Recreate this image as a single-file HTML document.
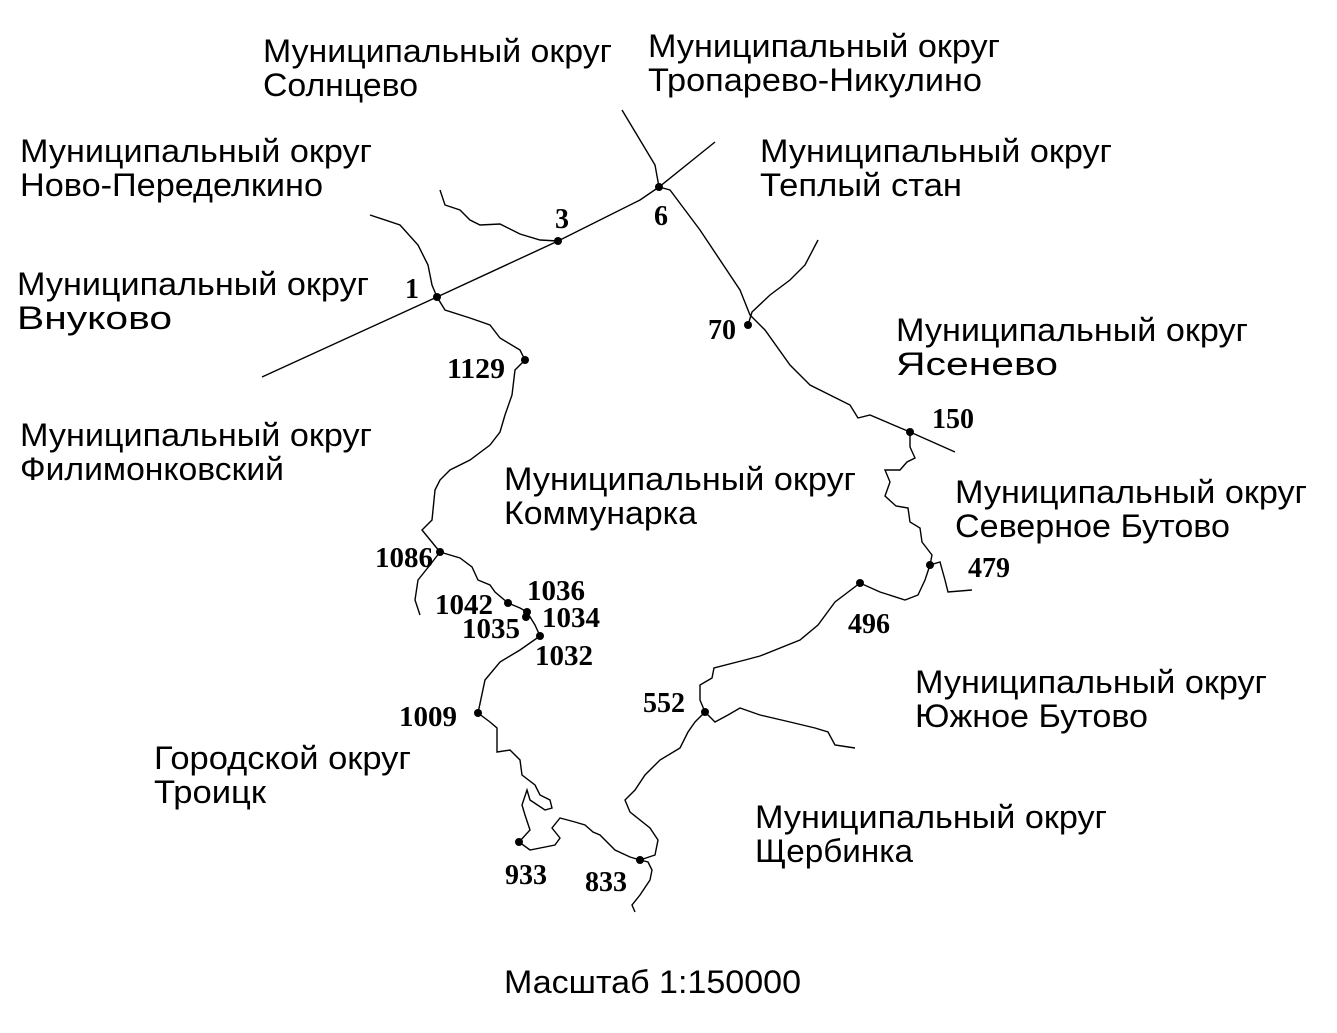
<!DOCTYPE html>
<html><head><meta charset="utf-8"><style>
html,body{margin:0;padding:0;background:#fff;}
svg{display:block;}
.t{font-family:"Liberation Sans",sans-serif;font-size:32px;fill:#000;}
.n{font-family:"Liberation Serif",serif;font-weight:bold;font-size:28px;fill:#000;}
path{fill:none;stroke:#000;stroke-width:1.4;}
</style></head><body>
<svg width="1337" height="1033" viewBox="0 0 1337 1033">
<path d="M262,377 L437,297 L558,241 L640,200 L659,187 L715,142"/>
<path d="M440,190 L445,205 L460,210 L470,220 L480,225 L500,224 L520,234 L540,240 L558,241"/>
<path d="M622,110 L655,165 L659,187 L670,190 L700,230 L740,290 L750,315 L765,330 L790,365 L810,385 L850,405 L858,418 L870,415 L910,432 L955,452"/>
<path d="M748,325 L752,312 L770,295 L790,280 L805,265 L818,240"/>
<path d="M370,215 L400,225 L418,245 L428,265 L432,285 L437,297 L445,310 L470,318 L490,325 L500,338 L520,350 L525,360 L515,370 L512,395 L505,415 L500,432 L490,445 L470,460 L450,470 L440,480 L435,490 L432,520 L422,530 L440,552"/>
<path d="M440,552 L430,565 L418,580 L415,600 L420,615"/>
<path d="M440,552 L460,558 L472,567 L478,580 L490,585 L495,592 L508,603 L520,608 L527,612 L535,625 L540,636 L520,650 L500,662 L485,680 L478,713 L490,722 L497,728 L497,752 L510,750 L520,760 L522,775 L535,785 L540,795 L550,800 L552,808 L545,810 L530,800 L527,790 L522,805 L525,815 L530,830 L519,842 L530,850 L555,845 L560,838 L552,828 L560,818 L575,822 L585,825 L593,832 L600,835 L615,850 L630,857 L640,860 L648,862 L652,870 L650,880 L640,895 L632,905 L635,912"/>
<path d="M640,860 L655,855 L658,840 L650,828 L630,812 L625,800 L635,790 L645,775 L660,760 L680,748 L688,732 L695,722 L705,712"/>
<path d="M705,712 L700,700 L700,685 L712,678 L714,668 L745,660 L760,656 L800,640 L818,625 L835,602 L860,583 L880,592 L905,600 L918,595 L925,580 L930,565 L940,562 L945,580 L948,592 L972,590"/>
<path d="M930,565 L932,555 L922,542 L920,528 L910,522 L908,508 L896,506 L885,496 L890,482 L885,470 L900,470 L907,462 L915,458 L910,447 L910,432"/>
<path d="M705,712 L715,722 L728,715 L740,708 L760,715 L790,722 L815,728 L828,732 L835,745 L855,748"/>
<g fill="#000">
<circle cx="437" cy="297" r="4"/><circle cx="558" cy="241" r="4"/><circle cx="659" cy="187" r="4"/>
<circle cx="748" cy="325" r="4"/><circle cx="910" cy="432" r="4"/><circle cx="525" cy="360" r="4"/>
<circle cx="440" cy="552" r="4"/><circle cx="508" cy="603" r="4"/><circle cx="527" cy="612" r="4"/><circle cx="526" cy="617" r="4"/>
<circle cx="540" cy="636" r="4"/><circle cx="478" cy="713" r="4"/><circle cx="519" cy="842" r="4"/><circle cx="640" cy="860" r="4"/>
<circle cx="705" cy="712" r="4"/><circle cx="860" cy="583" r="4"/><circle cx="930" cy="565" r="4"/>
</g>
<text class="n" x="405" y="298">1</text>
<text class="n" x="555" y="228">3</text>
<text class="n" x="654" y="225">6</text>
<text class="n" x="708" y="339">70</text>
<text class="n" x="932" y="428">150</text>
<text class="n" x="447" y="378" textLength="58" lengthAdjust="spacingAndGlyphs">1129</text>
<text class="n" x="375" y="567" textLength="58" lengthAdjust="spacingAndGlyphs">1086</text>
<text class="n" x="527" y="600" textLength="58" lengthAdjust="spacingAndGlyphs">1036</text>
<text class="n" x="435" y="614" textLength="58" lengthAdjust="spacingAndGlyphs">1042</text>
<text class="n" x="542" y="627" textLength="58" lengthAdjust="spacingAndGlyphs">1034</text>
<text class="n" x="462" y="638" textLength="58" lengthAdjust="spacingAndGlyphs">1035</text>
<text class="n" x="535" y="665" textLength="58" lengthAdjust="spacingAndGlyphs">1032</text>
<text class="n" x="399" y="726" textLength="58" lengthAdjust="spacingAndGlyphs">1009</text>
<text class="n" x="643" y="712">552</text>
<text class="n" x="848" y="633">496</text>
<text class="n" x="968" y="577">479</text>
<text class="n" x="505" y="884">933</text>
<text class="n" x="585" y="891">833</text>
<g class="t">
<text class="t" x="263" y="62" textLength="349" lengthAdjust="spacingAndGlyphs">Муниципальный округ</text><text class="t" x="263" y="96" textLength="155" lengthAdjust="spacingAndGlyphs">Солнцево</text>
<text class="t" x="648" y="57" textLength="352" lengthAdjust="spacingAndGlyphs">Муниципальный округ</text><text class="t" x="648" y="91" textLength="334" lengthAdjust="spacingAndGlyphs">Тропарево-Никулино</text>
<text class="t" x="20" y="162" textLength="352" lengthAdjust="spacingAndGlyphs">Муниципальный округ</text><text class="t" x="20" y="196" textLength="303" lengthAdjust="spacingAndGlyphs">Ново-Переделкино</text>
<text class="t" x="760" y="162" textLength="352" lengthAdjust="spacingAndGlyphs">Муниципальный округ</text><text class="t" x="760" y="196" textLength="202" lengthAdjust="spacingAndGlyphs">Теплый стан</text>
<text class="t" x="17" y="295" textLength="352" lengthAdjust="spacingAndGlyphs">Муниципальный округ</text><text class="t" x="17" y="329" textLength="155" lengthAdjust="spacingAndGlyphs">Внуково</text>
<text class="t" x="896" y="341" textLength="352" lengthAdjust="spacingAndGlyphs">Муниципальный округ</text><text class="t" x="896" y="375" textLength="162" lengthAdjust="spacingAndGlyphs">Ясенево</text>
<text class="t" x="20" y="446" textLength="352" lengthAdjust="spacingAndGlyphs">Муниципальный округ</text><text class="t" x="20" y="480" textLength="264" lengthAdjust="spacingAndGlyphs">Филимонковский</text>
<text class="t" x="504" y="490" textLength="352" lengthAdjust="spacingAndGlyphs">Муниципальный округ</text><text class="t" x="504" y="524" textLength="193" lengthAdjust="spacingAndGlyphs">Коммунарка</text>
<text class="t" x="955" y="503" textLength="352" lengthAdjust="spacingAndGlyphs">Муниципальный округ</text><text class="t" x="955" y="537" textLength="275" lengthAdjust="spacingAndGlyphs">Северное Бутово</text>
<text class="t" x="915" y="693" textLength="352" lengthAdjust="spacingAndGlyphs">Муниципальный округ</text><text class="t" x="915" y="727" textLength="233" lengthAdjust="spacingAndGlyphs">Южное Бутово</text>
<text class="t" x="154" y="769" textLength="257" lengthAdjust="spacingAndGlyphs">Городской округ</text><text class="t" x="154" y="803" textLength="112" lengthAdjust="spacingAndGlyphs">Троицк</text>
<text class="t" x="755" y="828" textLength="352" lengthAdjust="spacingAndGlyphs">Муниципальный округ</text><text class="t" x="755" y="862" textLength="158" lengthAdjust="spacingAndGlyphs">Щербинка</text>
<text class="t" x="504" y="993" textLength="297" lengthAdjust="spacingAndGlyphs">Масштаб 1:150000</text>
</g>
</svg>
</body></html>
